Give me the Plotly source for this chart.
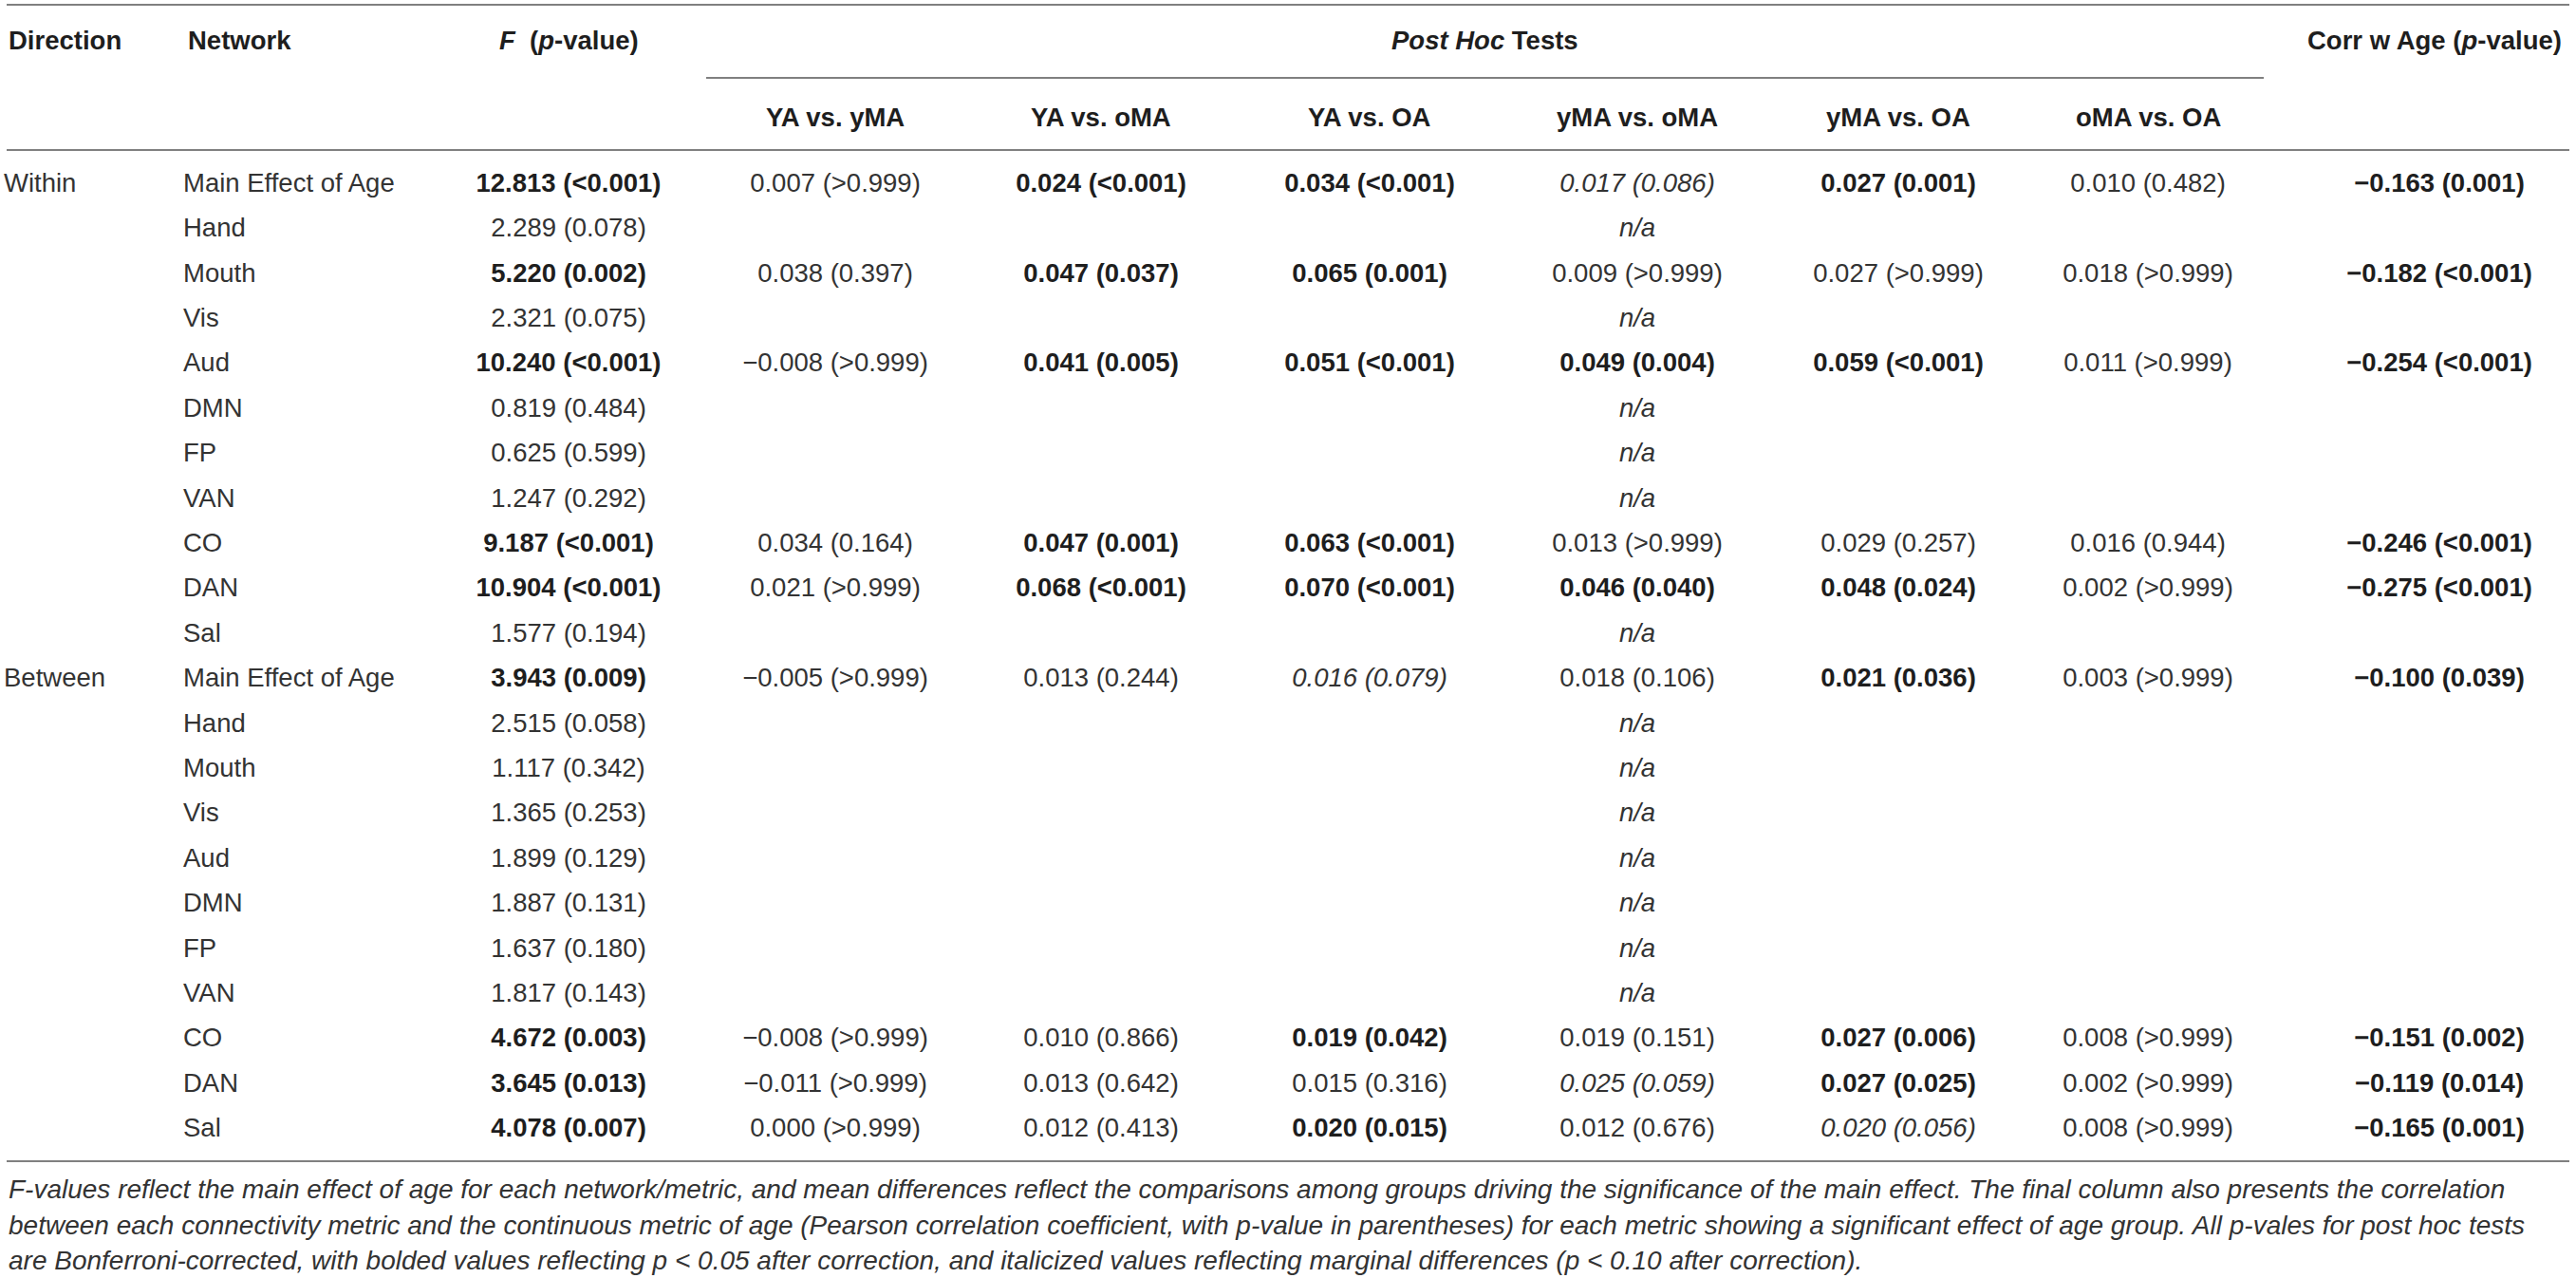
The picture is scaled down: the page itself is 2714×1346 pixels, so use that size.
import re
import plotly.graph_objects as go

# -----------------------------
# Table data
# -----------------------------
directions = ["Within", "Between"]

networks = ["Main Effect of Age", "Hand", "Mouth", "Vis", "Aud", "DMN",
            "FP", "VAN", "CO", "DAN", "Sal"]

comparisons = ["YA vs. yMA", "YA vs. oMA", "YA vs. OA",
               "yMA vs. oMA", "yMA vs. OA", "oMA vs. OA"]

f_within = ["12.813 (<0.001)", "2.289 (0.078)", "5.220 (0.002)", "2.321 (0.075)",
            "10.240 (<0.001)", "0.819 (0.484)", "0.625 (0.599)", "1.247 (0.292)",
            "9.187 (<0.001)", "10.904 (<0.001)", "1.577 (0.194)"]

f_between = ["3.943 (0.009)", "2.515 (0.058)", "1.117 (0.342)", "1.365 (0.253)",
             "1.899 (0.129)", "1.887 (0.131)", "1.637 (0.180)", "1.817 (0.143)",
             "4.672 (0.003)", "3.645 (0.013)", "4.078 (0.007)"]

# mean differences (p) for networks with a significant main effect
posthoc_within = {
    "Main Effect of Age": ["0.007 (>0.999)", "0.024 (<0.001)", "0.034 (<0.001)",
                           "0.017 (0.086)", "0.027 (0.001)", "0.010 (0.482)"],
    "Mouth": ["0.038 (0.397)", "0.047 (0.037)", "0.065 (0.001)",
              "0.009 (>0.999)", "0.027 (>0.999)", "0.018 (>0.999)"],
    "Aud": ["\u22120.008 (>0.999)", "0.041 (0.005)", "0.051 (<0.001)",
            "0.049 (0.004)", "0.059 (<0.001)", "0.011 (>0.999)"],
    "CO": ["0.034 (0.164)", "0.047 (0.001)", "0.063 (<0.001)",
           "0.013 (>0.999)", "0.029 (0.257)", "0.016 (0.944)"],
    "DAN": ["0.021 (>0.999)", "0.068 (<0.001)", "0.070 (<0.001)",
            "0.046 (0.040)", "0.048 (0.024)", "0.002 (>0.999)"],
}

posthoc_between = {
    "Main Effect of Age": ["\u22120.005 (>0.999)", "0.013 (0.244)", "0.016 (0.079)",
                           "0.018 (0.106)", "0.021 (0.036)", "0.003 (>0.999)"],
    "CO": ["\u22120.008 (>0.999)", "0.010 (0.866)", "0.019 (0.042)",
           "0.019 (0.151)", "0.027 (0.006)", "0.008 (>0.999)"],
    "DAN": ["\u22120.011 (>0.999)", "0.013 (0.642)", "0.015 (0.316)",
            "0.025 (0.059)", "0.027 (0.025)", "0.002 (>0.999)"],
    "Sal": ["0.000 (>0.999)", "0.012 (0.413)", "0.020 (0.015)",
            "0.012 (0.676)", "0.020 (0.056)", "0.008 (>0.999)"],
}

corr_within = {"Main Effect of Age": "\u22120.163 (0.001)", "Mouth": "\u22120.182 (<0.001)",
               "Aud": "\u22120.254 (<0.001)", "CO": "\u22120.246 (<0.001)",
               "DAN": "\u22120.275 (<0.001)"}

corr_between = {"Main Effect of Age": "\u22120.100 (0.039)", "CO": "\u22120.151 (0.002)",
                "DAN": "\u22120.119 (0.014)", "Sal": "\u22120.165 (0.001)"}

footnote = [
    "F-values reflect the main effect of age for each network/metric, and mean differences reflect the comparisons among groups driving the significance of the main effect. The final column also presents the correlation",
    "between each connectivity metric and the continuous metric of age (Pearson correlation coefficient, with p-value in parentheses) for each metric showing a significant effect of age group. All p-vales for post hoc tests",
    "are Bonferroni-corrected, with bolded values reflecting p < 0.05 after correction, and italicized values reflecting marginal differences (p < 0.10 after correction).",
]

# -----------------------------
# Layout constants
# -----------------------------
W, H = 2714, 1346
FONT = "Liberation Sans, Arial, Helvetica, sans-serif"
SIZE = 27.5
TXT = "#333333"
BOLD_TXT = "#1e1e1e"
RULE = "#808080"

ROW0, ROW_H = 195, 47.4
X_LEFT, X_RIGHT = 7, 2707
X_DIR, X_NET = 4, 193
X_F = 599
X_PH = [880, 1160, 1443, 1725, 2000, 2263]
X_NA = X_PH[3]
X_CORR = 2570
Y_HEAD, Y_SUB = 42, 123


def p_of(cell):
    m = re.search(r"\(([<>]?)([\d.]+)\)", cell)
    p = float(m.group(2))
    if m.group(1) == "<":
        p -= 1e-4
    return p


def esc(s):
    return s.replace("<", "&lt;").replace(">", "&gt;")


def styled(cell, marginal=False):
    # bold when p < .05, italic (post hoc only) when p < .10
    if not cell:
        return ""
    p = p_of(cell)
    s = esc(cell)
    if p < 0.05:
        return "<b>" + s + "</b>"
    if marginal and p < 0.10:
        return "<i>" + s + "</i>"
    return s


# -----------------------------
# Assemble the rows
# -----------------------------
dir_col, net_col, f_col, corr_col, na_col = [], [], [], [], []
ph_cols = [[] for _ in comparisons]

for d, fvals, ph, corr in [(directions[0], f_within, posthoc_within, corr_within),
                           (directions[1], f_between, posthoc_between, corr_between)]:
    for i, net in enumerate(networks):
        dir_col.append(d if i == 0 else "")
        net_col.append(net)
        f_col.append(styled(fvals[i]))
        corr_col.append(styled(corr.get(net, "")))
        if net in ph:
            na_col.append("")
            for k in range(len(comparisons)):
                ph_cols[k].append(styled(ph[net][k], marginal=True))
        else:
            na_col.append("<i>n/a</i>")
            for k in range(len(comparisons)):
                ph_cols[k].append("")

row_y = [ROW0 + ROW_H * i for i in range(len(net_col))]


def colour(texts):
    return [BOLD_TXT if t.startswith("<b>") else TXT for t in texts]


fig = go.Figure()


def add_col(x, texts, pos="middle center"):
    fig.add_trace(go.Scatter(
        x=[x] * len(texts), y=row_y, text=texts, mode="text",
        textposition=pos, hoverinfo="skip", showlegend=False,
        textfont=dict(family=FONT, size=SIZE, color=colour(texts)),
    ))


add_col(X_DIR, dir_col, "middle right")
add_col(X_NET, net_col, "middle right")
add_col(X_F, f_col)
for k in range(len(comparisons)):
    add_col(X_PH[k], ph_cols[k])
add_col(X_NA, na_col)
add_col(X_CORR, corr_col)

# -----------------------------
# Header
# -----------------------------
head_font = dict(family=FONT, size=SIZE, color=BOLD_TXT)
headers = [
    (X_DIR + 3, "<b>Direction</b>", "left"),
    (X_NET + 3, "<b>Network</b>", "left"),
    (X_F, "<b><i>F</i>  (<i>p</i>-value)</b>", "center"),
    ((744 + 2385) / 2, "<b><i>Post Hoc</i> Tests</b>", "center"),
    (X_CORR - 5, "<b>Corr w Age (<i>p</i>-value)</b>", "center"),
]
for x, t, anchor in headers:
    fig.add_annotation(x=x, y=Y_HEAD, text=t, showarrow=False, xanchor=anchor,
                       yanchor="middle", font=head_font)
for k, c in enumerate(comparisons):
    fig.add_annotation(x=X_PH[k], y=Y_SUB, text="<b>" + c + "</b>", showarrow=False,
                       xanchor="center", yanchor="middle", font=head_font)

# rules
for y, x0, x1 in [(5, X_LEFT, X_RIGHT), (82, 744, 2385), (158, X_LEFT, X_RIGHT),
                  (1223, X_LEFT, X_RIGHT)]:
    fig.add_shape(type="line", x0=x0, x1=x1, y0=y, y1=y, xref="x", yref="y",
                  line=dict(color=RULE, width=2))

# footnote
foot_y = [1252, 1290, 1327]
for y, line in zip(foot_y, footnote):
    t = esc(line)
    fig.add_annotation(x=X_LEFT, y=y, text="<i>" + t + "</i>", showarrow=False,
                       xanchor="left", yanchor="middle",
                       font=dict(family=FONT, size=28, color=TXT))

fig.update_layout(
    width=W, height=H,
    margin=dict(l=0, r=0, t=0, b=0),
    paper_bgcolor="white", plot_bgcolor="white",
    xaxis=dict(range=[0, W], visible=False, fixedrange=True),
    yaxis=dict(range=[H, 0], visible=False, fixedrange=True),
)

# drop the default page margin so the figure fills the window exactly
fig.write_html("out.html",
               config={"displayModeBar": False},
               post_script="document.body.style.margin='0';"
                           "document.body.style.overflow='hidden';")
